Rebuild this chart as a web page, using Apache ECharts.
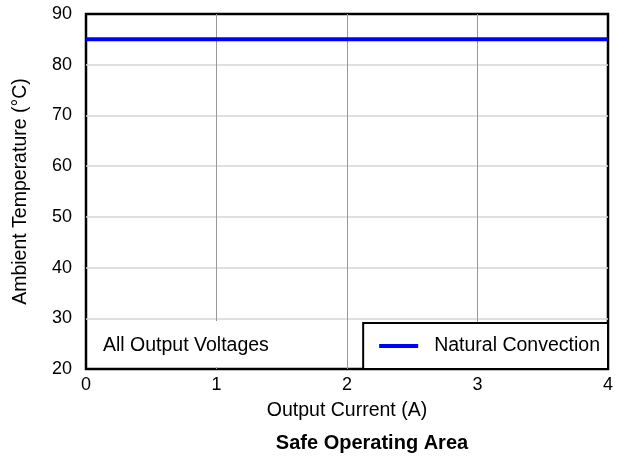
<!DOCTYPE html>
<html lang="en">
<head>
    <meta charset="UTF-8">
    <title>Safe Operating Area</title>
    <script src="https://cdn.jsdelivr.net/npm/echarts@6/dist/echarts.min.js"></script>
    <style>
        body {
            margin: 0;
            padding: 0;
            background: #fff;
        }
        #box {
            width: 620px;
            height: 457px;
        }
    </style>
</head>
<body>
<div id="box"></div>
<script>
    // data
    var seriesName = 'Natural Convection';
    var currentA = [0, 4];
    var ambientC = [85, 85];
    var xTicks = [0, 1, 2, 3, 4];
    var yTicks = [20, 30, 40, 50, 60, 70, 80, 90];

    var font = 'Liberation Sans, Arial, sans-serif';

    var points = currentA.map(function (x, i) {
        return [x, ambientC[i]];
    });

    var myChart = echarts.init(document.getElementById('box'));

    var option = {
        animation: false,
        textStyle: {fontFamily: font},
        title: {
            text: 'Safe Operating Area',
            left: 367,
            textAlign: 'center',
            top: 428,
            textStyle: {fontFamily: font, fontSize: 20, fontWeight: 'bold', color: '#000'}
        },
        grid: {
            left: 86,
            right: 12,
            top: 14,
            bottom: 88,
            show: true,
            borderColor: '#000',
            borderWidth: 2.5
        },
        legend: {
            data: [seriesName],
            right: 12,
            bottom: 88,
            padding: [13, 8, 13, 16],
            backgroundColor: '#fff',
            borderColor: '#000',
            borderWidth: 2,
            icon: 'rect',
            itemWidth: 39,
            itemHeight: 4,
            itemGap: 0,
            textStyle: {fontFamily: font, fontSize: 19.5, color: '#000', padding: [0, 0, 0, 11]}
        },
        xAxis: {
            type: 'value',
            min: xTicks[0],
            max: xTicks[xTicks.length - 1],
            interval: 1,
            name: 'Output Current (A)',
            nameLocation: 'middle',
            nameGap: 32,
            nameTextStyle: {fontFamily: font, fontSize: 19.5, color: '#000'},
            axisLine: {show: false},
            axisTick: {show: false},
            axisLabel: {fontFamily: font, fontSize: 18, color: '#000', margin: 7},
            splitLine: {showMinLine: false, showMaxLine: false, lineStyle: {color: '#999999', width: 1}}
        },
        yAxis: {
            type: 'value',
            min: yTicks[0],
            max: yTicks[yTicks.length - 1],
            interval: 10,
            name: 'Ambient Temperature (°C)',
            nameLocation: 'middle',
            nameGap: 55,
            nameTextStyle: {fontFamily: font, fontSize: 19.5, color: '#000'},
            axisLine: {show: false},
            axisTick: {show: false},
            axisLabel: {fontFamily: font, fontSize: 18, color: '#000', margin: 14},
            splitLine: {showMinLine: false, showMaxLine: false, lineStyle: {color: '#d6d6d6', width: 1.5}}
        },
        graphic: [
            {
                type: 'rect',
                z: 1,
                shape: {x: 88, y: 321, width: 250, height: 46},
                style: {fill: '#fff'}
            },
            {
                type: 'text',
                z: 2,
                left: 103,
                top: 336,
                style: {text: 'All Output Voltages', fontFamily: font, fontSize: 19.5, fill: '#000'}
            }
        ],
        series: [
            {
                name: seriesName,
                type: 'line',
                data: points,
                showSymbol: false,
                symbol: 'none',
                lineStyle: {color: '#0000ff', width: 4},
                itemStyle: {color: '#0000ff'}
            }
        ]
    };

    myChart.setOption(option);
</script>
</body>
</html>
